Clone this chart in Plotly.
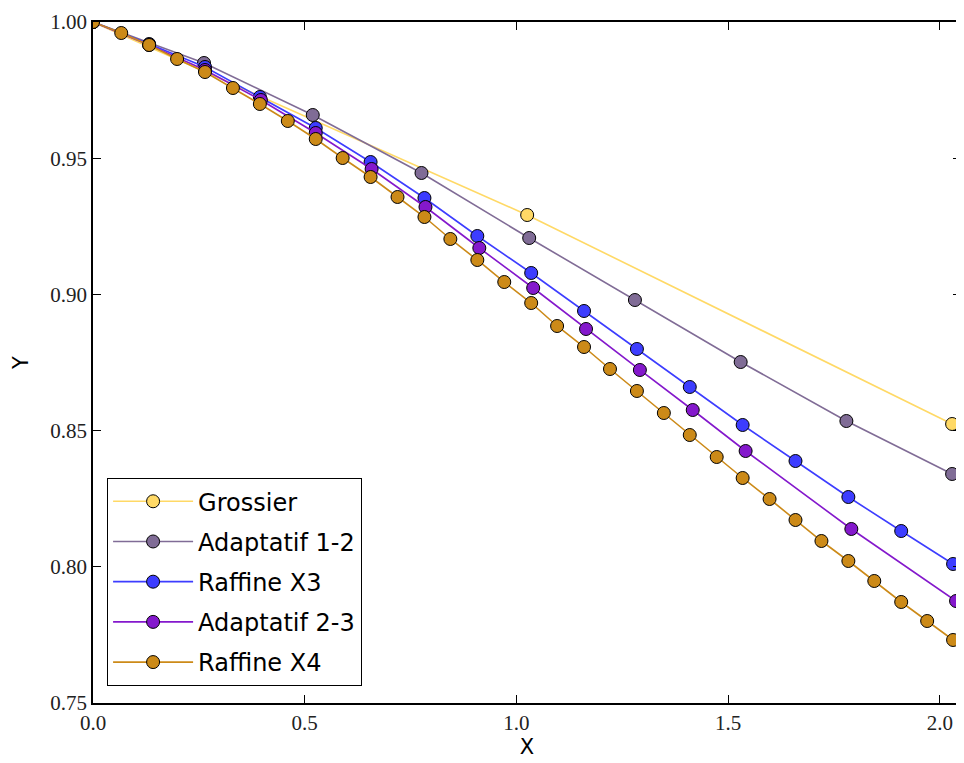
import plotly.graph_objects as go

# ---- data ----
names = ["Grossier", "Adaptatif 1-2", "Raffine X3", "Adaptatif 2-3", "Raffine X4"]
colors = ["#FFD966", "#806C96", "#3D3DFF", "#8418CC", "#CC8A18"]

x_grossier = [0.0, 1.0254, 2.0290]
y_grossier = [1.0, 0.92915, 0.85242]

x_adapt12 = [0.0, 0.2622, 0.5190, 0.7758, 1.0302, 1.2799, 1.5296, 1.7793, 2.0290]
y_adapt12 = [1.0, 0.98495, 0.96586, 0.94457, 0.92070, 0.89794, 0.87518, 0.85352, 0.83407]

x_raff3 = [0.0, 0.1326, 0.2645, 0.3941, 0.5260, 0.6556, 0.7828, 0.9077, 1.0349,
           1.1597, 1.2846, 1.4094, 1.5343, 1.6591, 1.7840, 1.9088, 2.0313]
y_raff3 = [1.0, 0.99192, 0.98348, 0.97247, 0.96109, 0.94860, 0.93539, 0.92144, 0.90786,
           0.89391, 0.87996, 0.86601, 0.85206, 0.83884, 0.82562, 0.81314, 0.80103]

x_adapt23 = [0.0, 0.1326, 0.2645, 0.3965, 0.5260, 0.6580, 0.7852, 0.9124, 1.0396,
             1.1644, 1.2916, 1.4164, 1.5413, 1.7910, 2.0383]
y_adapt23 = [1.0, 0.99156, 0.98238, 0.97137, 0.95925, 0.94604, 0.93209, 0.91703, 0.90235,
             0.88730, 0.87225, 0.85756, 0.84251, 0.81388, 0.78744]

x_raff4 = [0.0, 0.0667, 0.1326, 0.1986, 0.2645, 0.3305, 0.3941, 0.4601, 0.5260, 0.5896,
           0.6556, 0.7192, 0.7828, 0.8440, 0.9077, 0.9713, 1.0349, 1.0961, 1.1597, 1.2210,
           1.2846, 1.3482, 1.4094, 1.4730, 1.5343, 1.5979, 1.6591, 1.7204, 1.7840, 1.8452,
           1.9088, 1.9701, 2.0313]
y_raff4 = [1.0, 0.99596, 0.99156, 0.98642, 0.98164, 0.97577, 0.96990, 0.96366, 0.95705, 0.95007,
           0.94310, 0.93576, 0.92841, 0.92034, 0.91263, 0.90455, 0.89684, 0.88840, 0.88069, 0.87261,
           0.86454, 0.85646, 0.84838, 0.84031, 0.83260, 0.82489, 0.81718, 0.80947, 0.80213, 0.79479,
           0.78708, 0.78010, 0.77313]

xs = [x_grossier, x_adapt12, x_raff3, x_adapt23, x_raff4]
ys = [y_grossier, y_adapt12, y_raff3, y_adapt23, y_raff4]

x_ticks = [0.0, 0.5, 1.0, 1.5, 2.0]
y_ticks = [0.75, 0.80, 0.85, 0.90, 0.95, 1.00]

fig = go.Figure()
for i, (n, c, x, y) in enumerate(zip(names, colors, xs, ys)):
    fig.add_trace(go.Scatter(
        x=x, y=y, name=n, mode="lines+markers", legendgroup=f"g{i}",
        line=dict(color=c, width=1.6),
        marker=dict(color=c, size=13, line=dict(color="black", width=1)),
    ))

serif = "Liberation Serif, DejaVu Serif, serif"
sans = "DejaVu Sans, Liberation Sans, sans-serif"

axis_common = dict(
    showline=True, linecolor="black", linewidth=1.5, mirror="ticks",
    ticks="inside", ticklen=8, tickwidth=1, tickcolor="black",
    showgrid=False, zeroline=False,
    tickfont=dict(family=serif, size=21, color="#222"),
    title_font=dict(family=sans, size=21, color="black"),
)

fig.update_layout(
    width=956, height=755,
    margin=dict(l=85, r=1, t=14, b=60),
    paper_bgcolor="white", plot_bgcolor="white",
    xaxis=dict(range=[0, 2.05], tickvals=x_ticks, ticktext=[f"{v:.1f}" for v in x_ticks],
               title=dict(text="X", standoff=5), **axis_common),
    yaxis=dict(range=[0.75, 1.0], tickvals=y_ticks, ticktext=[f"{v:.2f}" for v in y_ticks],
               title=dict(text="Y", standoff=16), **axis_common),
    legend=dict(x=0.016, y=0.025, xanchor="left", yanchor="bottom",
                bgcolor="white", bordercolor="black", borderwidth=1.2,
                font=dict(family=sans, size=24, color="black"),
                traceorder="grouped", tracegroupgap=6, itemwidth=80),
    showlegend=True,
)

fig.write_html("out.html")
